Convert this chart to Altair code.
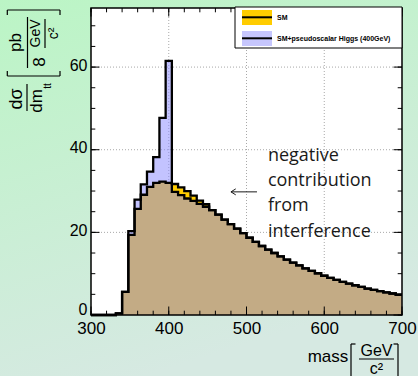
import altair as alt
import pandas as pd

# ---------------- data ----------------
x_min, x_max, bin_w = 300, 700, 8
bin_lo = list(range(x_min, x_max, bin_w))  # 50 bins of 8 GeV

sm = [0, 0, 0, 0, 0.4, 5.6, 19.4, 25.7, 29.1, 31.0,
      32.0, 32.3, 32.0, 31.7, 30.9, 30.0, 28.9, 27.7, 26.8, 25.4,
      24.3, 23.1, 22.0, 20.9, 19.8, 18.7, 17.7, 16.7, 15.8, 15.0,
      14.2, 13.4, 12.7, 12.0, 11.3, 10.7, 10.1, 9.5, 9.0, 8.5,
      8.0, 7.6, 7.2, 6.8, 6.4, 6.1, 5.8, 5.5, 5.2, 4.9]

smh = [0, 0, 0, 0, 0.4, 5.6, 20.3, 27.9, 31.6, 34.7,
       38.2, 47.7, 61.5, 29.8, 29.0, 28.2, 27.6, 26.9, 26.2, 25.4,
       24.3, 23.1, 22.0, 20.9, 19.8, 18.7, 17.7, 16.7, 15.8, 15.0,
       14.2, 13.4, 12.7, 12.0, 11.3, 10.7, 10.1, 9.5, 9.0, 8.5,
       8.0, 7.6, 7.2, 6.8, 6.4, 6.1, 5.8, 5.5, 5.2, 4.9]

x_major = [300, 400, 500, 600, 700]
x_minor = list(range(300, 701, 20))
y_major = [0, 20, 40, 60]
y_minor = list(range(0, 75, 5))
x_grid = [400, 500, 600]
y_grid = [20, 40, 60]

legend_labels = ["SM", "SM+pseudoscalar Higgs (400GeV)"]
note_text = "negative\ncontribution\nfrom\ninterference"
note_pos = (527.5, 37.3)
arrow_from, arrow_to, arrow_y = 513.5, 480.0, 29.8

# ---------------- layout ----------------
W, H = 311, 307
PAD = {"left": 91, "top": 8, "right": 16, "bottom": 61}
FONT = "Liberation Sans"

edges = bin_lo + [x_max]
df_sm = pd.DataFrame({"m": edges, "v": sm + [sm[-1]]})
df_smh = pd.DataFrame({"m": edges, "v": smh + [smh[-1]]})
one = pd.DataFrame({"k": [0]})

xs = alt.Scale(domain=[x_min, x_max], nice=False, zero=False)
ys = alt.Scale(domain=[0, 74.3], nice=False, zero=True)

x_axis = alt.Axis(values=x_major, domain=False, ticks=False, grid=False,
                  labelFontSize=17, labelFont=FONT, labelColor="black",
                  labelPadding=5, labelFlush=False, labelOverlap=False,
                  format="d", title=None, zindex=1)
y_axis = alt.Axis(values=y_major, domain=False, ticks=False, grid=False,
                  labelFontSize=16, labelFont=FONT, labelColor="black",
                  labelPadding=4,
                  labelOffset={"condition": {"test": "datum.value === 0", "value": -6}, "value": -2},
                  labelOverlap=False, format="d",
                  title=None, zindex=1)


def X(field):
    return alt.X(field, scale=xs, axis=x_axis)


def Y(field):
    return alt.Y(field, scale=ys, axis=y_axis)


def pix_text(txt, x, y, size, angle=0, weight="normal", align="center",
             baseline="middle", font=FONT):
    kw = dict(text=txt, fontSize=size, font=font, fontWeight=weight,
              align=align, baseline=baseline, color="black")
    if angle:
        kw["angle"] = angle
    return alt.Chart(one).mark_text(**kw).encode(x=alt.value(x), y=alt.value(y))


def pix_rule(x1, y1, x2, y2, w=1.2):
    return alt.Chart(one).mark_rule(color="black", strokeWidth=w).encode(
        x=alt.value(x1), x2=alt.value(x2), y=alt.value(y1), y2=alt.value(y2))


def pix_rect(x1, y1, x2, y2, **kw):
    return alt.Chart(one).mark_rect(**kw).encode(
        x=alt.value(x1), x2=alt.value(x2), y=alt.value(y1), y2=alt.value(y2))


layers = []

# background gradient and white plot area
bg = alt.LinearGradient(gradient="linear",
                        stops=[alt.GradientStop(color="#bbf5c5", offset=0),
                               alt.GradientStop(color="#d6e9e2", offset=1)],
                        x1=0, x2=0.35, y1=0, y2=1)
layers.append(pix_rect(-PAD["left"], -PAD["top"], W + PAD["right"], H + PAD["bottom"], color=bg))
layers.append(pix_rect(0, 0, W, H, color="white"))

# grid
layers.append(alt.Chart(pd.DataFrame({"g": x_grid})).mark_rule(
    color="#a8a8a8", strokeDash=[1, 2], strokeWidth=1).encode(x=X("g:Q")))
layers.append(alt.Chart(pd.DataFrame({"g": y_grid})).mark_rule(
    color="#a8a8a8", strokeDash=[1, 2], strokeWidth=1).encode(y=Y("g:Q")))

# histograms
layers.append(alt.Chart(df_sm).mark_area(interpolate="step-after", color="#ffcc00").encode(
    x=X("m:Q"), y=Y("v:Q")))
layers.append(alt.Chart(df_smh).mark_area(interpolate="step-after", color="#8c8cff", opacity=0.52).encode(
    x=X("m:Q"), y=Y("v:Q")))
for d in (df_smh, df_sm):
    layers.append(alt.Chart(d).mark_line(interpolate="step-after", color="black",
                                         strokeWidth=2.3, strokeJoin="miter").encode(
        x=X("m:Q"), y=Y("v:Q")))

# ticks (inward)
for vals, ln in ((x_minor, 4.3), (x_major, 8.5)):
    d = pd.DataFrame({"t": vals})
    layers.append(alt.Chart(d).mark_rule(color="black", strokeWidth=1).encode(
        x=X("t:Q"), y=alt.value(H), y2=alt.value(H - ln)))
    layers.append(alt.Chart(d).mark_rule(color="black", strokeWidth=1).encode(
        x=X("t:Q"), y=alt.value(0), y2=alt.value(ln)))
for vals, ln in ((y_minor, 4.3), (y_major, 8.5)):
    d = pd.DataFrame({"t": vals})
    layers.append(alt.Chart(d).mark_rule(color="black", strokeWidth=1).encode(
        y=Y("t:Q"), x=alt.value(0), x2=alt.value(ln)))
    layers.append(alt.Chart(d).mark_rule(color="black", strokeWidth=1).encode(
        y=Y("t:Q"), x=alt.value(W), x2=alt.value(W - ln)))

# frame
layers.append(pix_rect(0, 0, W, H, fillOpacity=0, stroke="black", strokeWidth=1.5))

# legend
layers.append(pix_rect(144, -1, 311, 40, color="white", stroke="black", strokeWidth=1))
layers.append(pix_rect(151, 2, 181, 17, color="#ffcc00"))
layers.append(pix_rule(151, 9.3, 181, 9.3, w=2))
layers.append(pix_rect(151, 23, 181, 38, color="#c6c6fd"))
layers.append(pix_rule(151, 30.3, 181, 30.3, w=2))
layers.append(pix_text(legend_labels[0], 186, 9.5, 7, weight="bold", align="left"))
layers.append(pix_text(legend_labels[1], 186, 30.5, 7, weight="bold", align="left"))

# annotation
layers.append(alt.Chart(pd.DataFrame({"x": [note_pos[0]], "y": [note_pos[1]], "t": [note_text]})).mark_text(
    align="left", baseline="alphabetic", lineBreak="\n", lineHeight=25.3,
    font="Open Sans", fontSize=18, color="#1a1a1a").encode(
    x=X("x:Q"), y=Y("y:Q"), text="t:N"))
layers.append(alt.Chart(pd.DataFrame({"x": [arrow_to], "x2": [arrow_from], "y": [arrow_y]})).mark_rule(
    color="#1a1a1a", strokeWidth=1).encode(x=X("x:Q"), x2="x2:Q", y=Y("y:Q")))
layers.append(alt.Chart(pd.DataFrame({"x": [arrow_to], "y": [arrow_y]})).mark_point(
    shape="M1.6,-1L0,0L1.6,1", size=36, filled=False, color="#1a1a1a", strokeWidth=1, opacity=1).encode(
    x=X("x:Q"), y=Y("y:Q")))

# y-axis title: dσ/dm_tt [ pb / (8 GeV/c²) ]
layers += [
    pix_text("pb", -75, 34.5, 17, angle=270),
    pix_rule(-63.5, 9, -63.5, 60),
    pix_text("8", -51.5, 54, 17, angle=270),
    pix_text("GeV", -55, 25.5, 14, angle=270),
    pix_rule(-46, 11, -46, 40),
    pix_text("c²", -37, 25.5, 14, angle=270),
    pix_rule(-83.7, 2, -31, 2), pix_rule(-83.7, 2, -83.7, 7), pix_rule(-31, 2, -31, 7),
    pix_rule(-83.7, 68, -31, 68), pix_rule(-83.7, 68, -83.7, 63), pix_rule(-31, 68, -31, 63),
    pix_text("dσ", -74.5, 91, 18, angle=270),
    pix_rule(-64, 76, -64, 103),
    pix_text("dm", -54.5, 93, 17, angle=270),
    pix_text("tt", -43.5, 78, 10, angle=270),
]

# x-axis title: mass [GeV/c²]
layers += [
    pix_text("mass", 237, 354, 17, baseline="alphabetic"),
    pix_rule(260, 336, 260, 372), pix_rule(260, 336, 264.5, 336),
    pix_text("GeV", 285.5, 348, 16, baseline="alphabetic"),
    pix_rule(268, 351, 303, 351),
    pix_text("c²", 285.5, 366, 16, baseline="alphabetic"),
    pix_rule(307, 336, 307, 372), pix_rule(302.5, 336, 307, 336),
]

chart = alt.layer(*layers).properties(
    width=W, height=H,
    autosize=alt.AutoSizeParams(type="none"),
    padding=PAD,
    background="#c8efd2",
).configure_view(stroke="transparent")

chart.save("out.html", embed_options={"renderer": "svg", "actions": False})
